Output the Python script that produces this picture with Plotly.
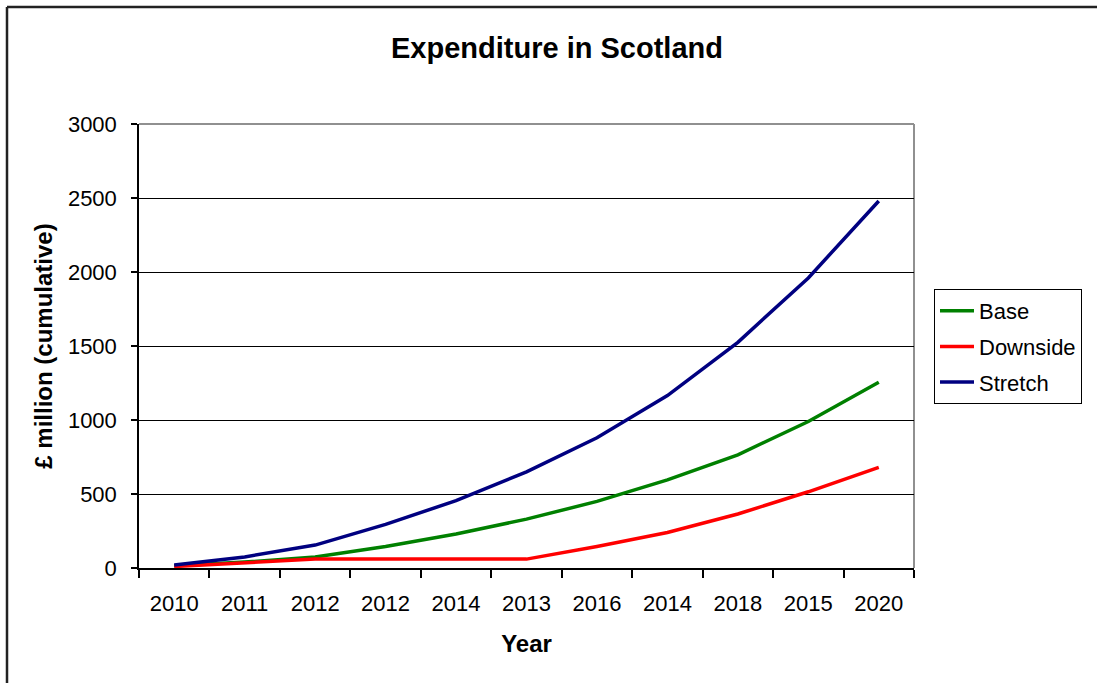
import plotly.graph_objects as go

# Category labels along the x axis (as printed on the chart)
year_labels = ["2010", "2011", "2012", "2012", "2014", "2013",
               "2016", "2014", "2018", "2015", "2020"]

# Cumulative expenditure, £ million
base = [15, 40, 75, 145, 230, 330, 450, 595, 765, 990, 1255]
downside = [10, 35, 60, 60, 60, 60, 145, 240, 365, 515, 680]
stretch = [20, 75, 155, 295, 455, 650, 880, 1165, 1525, 1960, 2480]

series_names = ["Base", "Downside", "Stretch"]
series_colors = ["#008000", "#FF0000", "#000080"]

positions = list(range(len(year_labels)))

FONT = "Liberation Sans, Arial, sans-serif"

fig = go.Figure()
for name, values, color in zip(series_names, [base, downside, stretch], series_colors):
    fig.add_trace(go.Scatter(
        x=positions, y=values, mode="lines", name=name,
        legendgroup=name,
        line=dict(color=color, width=3.5),
    ))

W, H = 1097, 683
L, R, T, B = 139, 183, 124, 115
pw, ph = W - L - R, H - T - B


def px_x(x):
    return (x - L) / pw


def px_y(y):
    return 1 - (y - T) / ph


fig.update_layout(
    width=W, height=H,
    margin=dict(l=L, r=R, t=T, b=B),
    paper_bgcolor="white",
    plot_bgcolor="white",
    font=dict(family=FONT, size=22, color="black"),
    title=dict(
        text="<b>Expenditure in Scotland</b>",
        font=dict(family=FONT, size=29, color="black"),
        x=px_x(557), xref="paper", xanchor="center",
        y=1 - 48 / H, yref="container", yanchor="middle",
    ),
    showlegend=True,
    legend=dict(
        x=px_x(934), xanchor="left",
        y=px_y(289), yanchor="top",
        bordercolor="black", borderwidth=1,
        bgcolor="white",
        font=dict(family=FONT, size=22, color="black"),
        tracegroupgap=4,
        itemwidth=34,
    ),
    xaxis=dict(
        range=[-0.5, len(year_labels) - 0.5],
        tickmode="array", tickvals=positions, ticktext=year_labels,
        ticks="", showgrid=False, zeroline=False,
        showline=True, linecolor="black", linewidth=1.5,
        ticklabelstandoff=15,
        tickfont=dict(family=FONT, size=22, color="black"),
        minor=dict(tickmode="linear", tick0=-0.5, dtick=1,
                   ticks="outside", ticklen=8, tickcolor="black",
                   tickwidth=1.5, showgrid=False),
        title=dict(text="<b>Year</b>", standoff=20,
                   font=dict(family=FONT, size=24, color="black")),
        fixedrange=True,
    ),
    yaxis=dict(
        range=[0, 3000], tickmode="linear", tick0=0, dtick=500,
        ticks="outside", ticklen=6, tickcolor="black", tickwidth=1.5,
        showgrid=True, gridcolor="black", gridwidth=1,
        zeroline=False,
        showline=True, linecolor="black", linewidth=1.5,
        ticklabelstandoff=10,
        tickfont=dict(family=FONT, size=22, color="black"),
        title=dict(text="<b>£ million (cumulative)</b>", standoff=8,
                   font=dict(family=FONT, size=24, color="black")),
        fixedrange=True,
    ),
    shapes=[
        # plot-area border (top and right edges)
        dict(type="line", xref="paper", yref="paper", x0=0, x1=1, y0=1, y1=1,
             line=dict(color="#909090", width=2), layer="below"),
        dict(type="line", xref="paper", yref="paper", x0=1, x1=1, y0=0, y1=1,
             line=dict(color="#909090", width=2), layer="below"),
        # outer chart frame
        dict(type="line", xref="paper", yref="paper",
             x0=px_x(7), x1=px_x(W + 20), y0=px_y(7), y1=px_y(7),
             line=dict(color="#222222", width=2.5)),
        dict(type="line", xref="paper", yref="paper",
             x0=px_x(7), x1=px_x(7), y0=px_y(7), y1=px_y(H + 20),
             line=dict(color="#222222", width=2.5)),
    ],
)

fig.write_html("out.html")
